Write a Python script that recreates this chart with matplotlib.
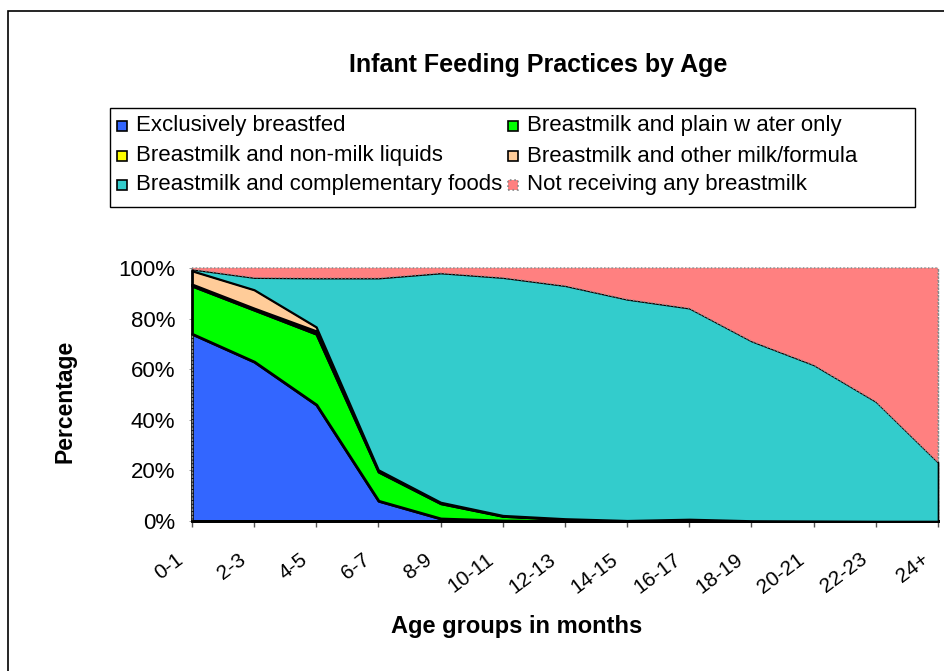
import matplotlib
matplotlib.use("Agg")
import matplotlib.pyplot as plt
import matplotlib.patches as mpatches
from matplotlib.transforms import ScaledTranslation
import numpy as np

plt.rcParams['font.family'] = ['Liberation Sans', 'DejaVu Sans']

# ---- data ----
age_groups = ["0-1", "2-3", "4-5", "6-7", "8-9", "10-11", "12-13", "14-15",
              "16-17", "18-19", "20-21", "22-23", "24+"]
exclusive = [74.0, 63.0, 46.0, 8.0, 1.0, 0.2, 0.0, 0.0, 0.3, 0.0, 0.0, 0.0, 0.0]
plain_water = [19.0, 20.5, 28.0, 11.5, 6.0, 1.8, 0.8, 0.3, 0.5, 0.2, 0.1, 0.0, 0.0]
non_milk = [0.5, 0.5, 1.0, 0.5, 0.3, 0.2, 0.1, 0.0, 0.0, 0.0, 0.0, 0.0, 0.0]
other_milk = [5.5, 7.5, 1.8, 0.3, 0.2, 0.1, 0.1, 0.0, 0.0, 0.0, 0.0, 0.0, 0.0]
complementary = [0.5, 4.7, 19.2, 75.7, 90.5, 93.9, 92.0, 87.3, 83.3, 70.9, 61.6, 47.2, 23.2]
no_breastmilk = [0.5, 3.8, 4.0, 4.0, 2.0, 3.8, 7.0, 12.4, 15.9, 28.9, 38.3, 52.8, 76.8]

series_names = ["Exclusively breastfed", "Breastmilk and plain w ater only",
                "Breastmilk and non-milk liquids", "Breastmilk and other milk/formula",
                "Breastmilk and complementary foods", "Not receiving any breastmilk"]
series_vals = [exclusive, plain_water, non_milk, other_milk, complementary, no_breastmilk]
colors = ["#3366FF", "#00FF00", "#FFFF00", "#FFCC99", "#33CCCC", "#FF8080"]

W, H = 945, 671
fig = plt.figure(figsize=(W / 100, H / 100), dpi=100)

def fx(x):
    return x / W

def fy(y):
    return 1 - y / H

# outer chart border
fig.patches.append(mpatches.Rectangle((fx(8), fy(700)), fx(1000), fy(11) - fy(700),
                                      transform=fig.transFigure, fill=False,
                                      edgecolor="black", linewidth=1.2))

ax = fig.add_axes([fx(192), fy(521), fx(938) - fx(192), fy(268) - fy(521)])
x = np.arange(len(age_groups))
vals = np.array(series_vals, dtype=float)
cum = np.cumsum(vals, axis=0)
lws = [2.0, 2.0, 2.0, 2.0, 1.2, 1.0]
for i in range(len(series_vals)):
    lower = cum[i - 1] if i > 0 else np.zeros(len(x))
    upper = cum[i]
    if i == 5:
        upper = np.full(len(x), 100.0)
        ax.fill_between(x, lower, upper, facecolor=colors[i], edgecolor="#888888",
                        linewidth=1.0, linestyle=":", clip_on=False, zorder=2 + i)
    else:
        ax.fill_between(x, lower, upper, facecolor=colors[i], edgecolor="black",
                        linewidth=lws[i], clip_on=False, zorder=2 + i)

ax.set_xlim(0, len(x) - 1)
ax.set_ylim(0, 100)
ax.set_yticks([0, 20, 40, 60, 80, 100])
ax.set_yticklabels(["0%", "20%", "40%", "60%", "80%", "100%"], fontsize=16)
ax.set_xticks(x)
ax.set_xticklabels(age_groups, fontsize=15, rotation=37, ha="right", va="center",
                   rotation_mode="anchor")
ax.tick_params(axis="x", direction="out", length=4, width=1, color="#555555", pad=22)
ax.tick_params(axis="y", direction="out", length=2, width=0.6, color="#888888", pad=10)
offset = ScaledTranslation(-11 / 100, 0, fig.dpi_scale_trans)
for lab in ax.get_xticklabels():
    lab.set_transform(lab.get_transform() + offset)
for s in ["left", "top", "right"]:
    ax.spines[s].set_linestyle(":")
    ax.spines[s].set_color("#888888")
    ax.spines[s].set_linewidth(1.0)
ax.spines["bottom"].set_color("black")
ax.spines["bottom"].set_linewidth(2)

# title and axis labels
fig.text(fx(538), fy(65), "Infant Feeding Practices by Age", fontsize=18, fontweight="bold",
         ha="center", va="center")
fig.text(fx(65), fy(401), "Percentage", fontsize=16.5, fontweight="bold", rotation=90,
         ha="center", va="center")
fig.text(fx(517), fy(627), "Age groups in months", fontsize=17, fontweight="bold",
         ha="center", va="center")

# legend box
fig.patches.append(mpatches.Rectangle((fx(110), fy(207)), fx(915) - fx(110), fy(108) - fy(207),
                                      transform=fig.transFigure, fill=False,
                                      edgecolor="black", linewidth=1.0))
order = [(0, 0), (0, 1), (1, 0), (1, 1), (2, 0), (2, 1)]
row_y = [126, 156, 185]
col_x = [117, 508]
for i, (r, c) in enumerate(order):
    mx, my = col_x[c], row_y[r]
    ec = "#888888" if i == 5 else "black"
    ls = ":" if i == 5 else "-"
    fig.patches.append(mpatches.Rectangle((fx(mx), fy(my + 5)), fx(10), fy(my - 5) - fy(my + 5),
                                          transform=fig.transFigure, facecolor=colors[i],
                                          edgecolor=ec, linestyle=ls, linewidth=1.2))
    fig.text(fx(mx + 19), fy(my), series_names[i], fontsize=16, ha="left", va="center")

fig.savefig("out.png", dpi=100)
